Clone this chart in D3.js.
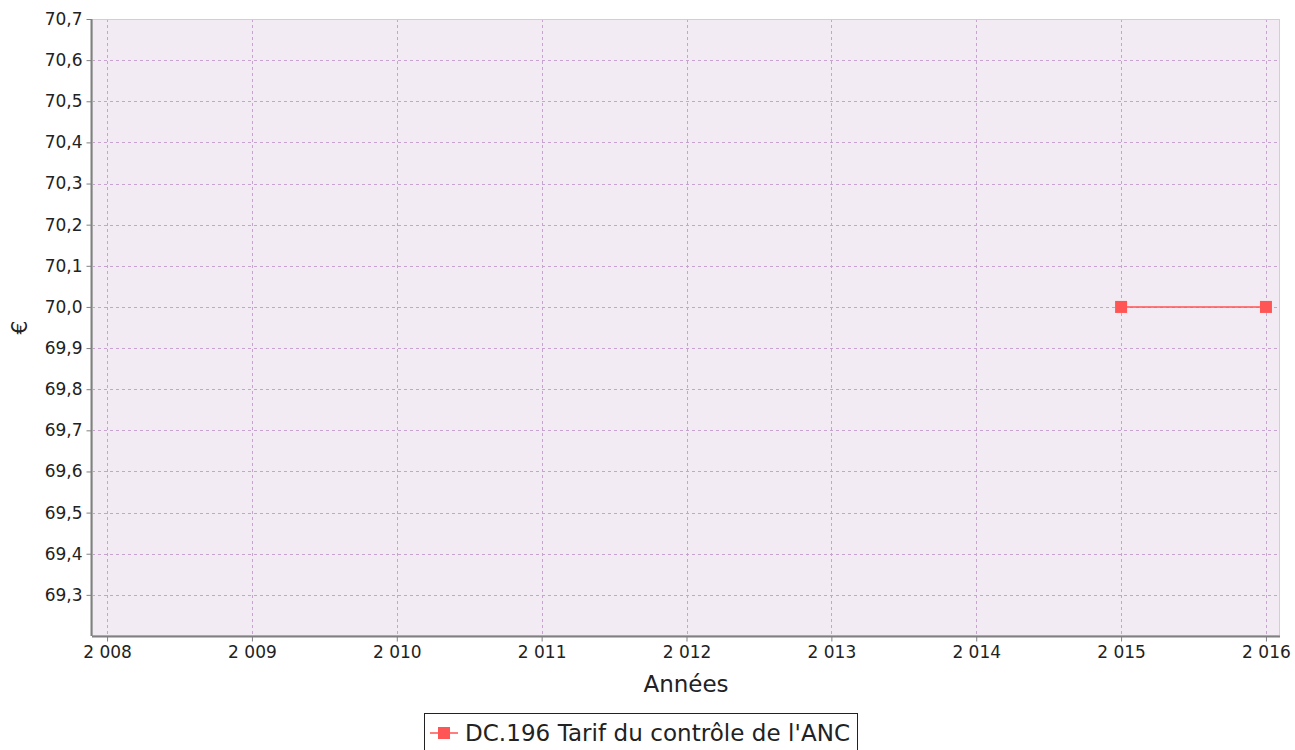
<!DOCTYPE html>
<html>
<head>
<meta charset="utf-8">
<script src="https://cdn.jsdelivr.net/npm/d3@7"></script>
<style>
  body { margin: 0; background: #fff; }
  svg { font-family: "DejaVu Sans", sans-serif; }
</style>
</head>
<body>
<div id="chart"></div>
<script>
"use strict";

var years = [2015, 2016];
var values = [70.0, 70.0];
var xTicks = [2008, 2009, 2010, 2011, 2012, 2013, 2014, 2015, 2016];
var yTicks = [69.3, 69.4, 69.5, 69.6, 69.7, 69.8, 69.9, 70.0, 70.1, 70.2, 70.3, 70.4, 70.5, 70.6, 70.7];
var seriesName = "DC.196 Tarif du contrôle de l'ANC";
var xTitle = "Années";
var yTitle = "€";

var width = 1295, height = 750;
var plot = {left: 92, top: 19, right: 1280, bottom: 636};

var svg = d3.select("#chart").append("svg")
    .attr("width", width)
    .attr("height", height);

var x = d3.scaleLinear().domain([2007.896, 2016.097]).range([plot.left, plot.right]);
var y = d3.scaleLinear().domain([69.2, 70.7]).range([plot.bottom, plot.top]);

// plot background
svg.append("rect")
    .attr("x", plot.left).attr("y", plot.top)
    .attr("width", plot.right - plot.left)
    .attr("height", plot.bottom - plot.top)
    .attr("fill", "#f3ebf3");

// grid
var grid = svg.append("g").attr("stroke", "#c7a4cf").attr("stroke-width", 1)
    .attr("stroke-dasharray", "3,3");
grid.selectAll(".gx").data(xTicks).enter().append("line")
    .attr("x1", d => Math.round(x(d)) + 0.5).attr("x2", d => Math.round(x(d)) + 0.5)
    .attr("y1", plot.top).attr("y2", plot.bottom);
grid.selectAll(".gy").data(yTicks).enter().append("line")
    .attr("y1", d => Math.round(y(d)) + 0.5).attr("y2", d => Math.round(y(d)) + 0.5)
    .attr("x1", plot.left).attr("x2", plot.right);

// plot outline
svg.append("rect")
    .attr("x", plot.left + 0.5).attr("y", plot.top + 0.5)
    .attr("width", plot.right - plot.left - 1)
    .attr("height", plot.bottom - plot.top - 1)
    .attr("fill", "none").attr("stroke", "#d0d0d0");

// axes
var fmtX = d => d3.format("d")(d).replace(/^(\d)(\d{3})$/, "$1 $2");
var fmtY = d => d3.format(".1f")(d).replace(".", ",");

var xAxis = svg.append("g")
    .attr("transform", "translate(0," + (plot.bottom + 0.5) + ")")
    .call(d3.axisBottom(x).tickValues(xTicks).tickFormat(fmtX).tickSizeOuter(0).tickSize(5).tickPadding(4));
var yAxis = svg.append("g")
    .attr("transform", "translate(" + (plot.left - 0.5) + ",0)")
    .call(d3.axisLeft(y).tickValues(yTicks).tickFormat(fmtY).tickSizeOuter(0).tickSize(5).tickPadding(4));

[xAxis, yAxis].forEach(function(a) {
    a.select(".domain").attr("stroke", "#808080").attr("stroke-width", 2);
    a.selectAll(".tick line").attr("stroke", "#808080");
    a.selectAll(".tick text").attr("fill", "#222").style("font-size", "17px")
        .style("font-family", "DejaVu Sans, sans-serif");
});
xAxis.select(".domain").attr("d", "M" + plot.left + ",0H" + plot.right);
yAxis.select(".domain").attr("d", "M0," + plot.top + "V" + plot.bottom);

// axis titles
svg.append("text")
    .attr("x", (plot.left + plot.right) / 2).attr("y", 692)
    .attr("text-anchor", "middle").attr("fill", "#222")
    .style("font-size", "23px").text(xTitle);
svg.append("text")
    .attr("transform", "translate(27," + ((plot.top + plot.bottom) / 2) + ") rotate(-90)")
    .attr("text-anchor", "middle").attr("fill", "#222")
    .style("font-size", "22px").text(yTitle);

// series
var pts = years.map((d, i) => [d, values[i]]);
svg.append("path")
    .datum(pts)
    .attr("fill", "none").attr("stroke", "#ff5555").attr("stroke-width", 1.5)
    .attr("d", d3.line().x(d => x(d[0])).y(d => y(d[1])));
svg.selectAll(".pt").data(pts).enter().append("rect")
    .attr("x", d => x(d[0]) - 6).attr("y", d => y(d[1]) - 6)
    .attr("width", 12).attr("height", 12)
    .attr("fill", "#ff5555");

// legend
var lg = svg.append("g");
lg.append("rect")
    .attr("x", 424.5).attr("y", 713.5).attr("width", 433).attr("height", 40)
    .attr("fill", "#fff").attr("stroke", "#222");
lg.append("line")
    .attr("x1", 430).attr("x2", 458).attr("y1", 733).attr("y2", 733)
    .attr("stroke", "#ff5555").attr("stroke-width", 1.5);
lg.append("rect")
    .attr("x", 438).attr("y", 727).attr("width", 12).attr("height", 12)
    .attr("fill", "#ff5555");
lg.append("text")
    .attr("x", 465).attr("y", 741)
    .attr("fill", "#222").style("font-size", "23px")
    .attr("textLength", 385)
    .text(seriesName);
</script>
</body>
</html>
